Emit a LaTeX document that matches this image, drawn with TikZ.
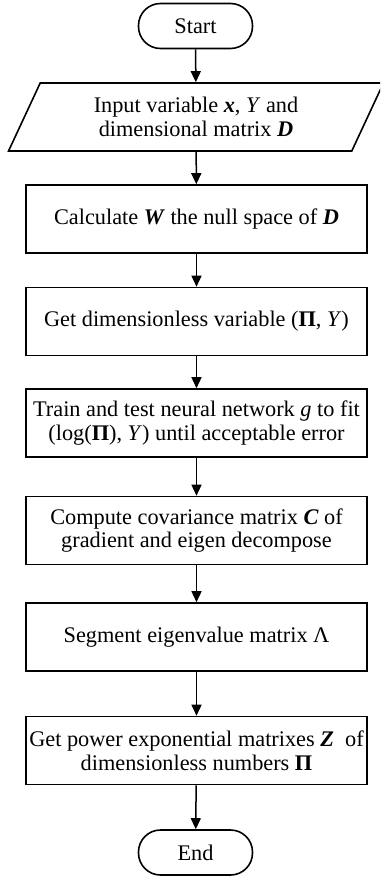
\documentclass[tikz,border=0pt]{standalone}
\usepackage{fontspec}
\setmainfont{Liberation Serif}
\usetikzlibrary{shapes.geometric,arrows.meta}
\newcommand{\bi}[1]{\textbf{\textit{#1}}}
\begin{document}
\begin{tikzpicture}[x=1pt,y=1pt,
  base/.style={draw,line width=1.6pt,inner sep=1pt,align=center,font=\fontsize{22.3}{23.5}\selectfont},
  procbox/.style={base,rectangle,minimum width=341pt,minimum height=68pt},
  termbox/.style={base,rounded corners=22pt,minimum width=114pt,minimum height=45pt},
  iobox/.style={base,trapezium,trapezium left angle=63,trapezium right angle=117,trapezium stretches=true,minimum width=376pt,minimum height=68pt},
  flow/.style={line width=1.5pt,-{Triangle[length=11pt,width=10pt]}}]
\clip (0,0) rectangle (380,-877);
\node[termbox] (start) at (195.5,-26) {Start};
\node[iobox] (input) at (196,-117) {Input variable \bi{x}, \textit{Y} and\\dimensional matrix \bi{D}};
\node[procbox] (calc) at (196.5,-219) {Calculate \bi{W} the null space of \bi{D}};
\node[procbox] (dim) at (196.5,-321.5) {Get dimensionless variable (\textbf{Π}, \textit{Y})};
\node[procbox] (train) at (196.5,-423) {Train and test neural network \textit{g} to fit\\(log(\textbf{Π}), \textit{Y}) until acceptable error};
\node[procbox] (cov) at (196.5,-530.5) {Compute covariance matrix \bi{C} of\\gradient and eigen decompose};
\node[procbox] (seg) at (196.5,-637) {Segment eigenvalue matrix Λ};
\node[procbox] (pow) at (196.5,-750.5) {Get power exponential matrixes \bi{Z}\ \ of\\dimensionless numbers \textbf{Π}};
\node[termbox] (end) at (195.5,-852.5) {End};
\draw[flow] (start) -- (input);
\draw[flow] (input) -- (calc);
\draw[flow] (calc) -- (dim);
\draw[flow] (dim) -- (train);
\draw[flow] (train) -- (cov);
\draw[flow] (cov) -- (seg);
\draw[flow] (seg) -- (pow);
\draw[flow] (pow) -- (end);
\end{tikzpicture}
\end{document}
